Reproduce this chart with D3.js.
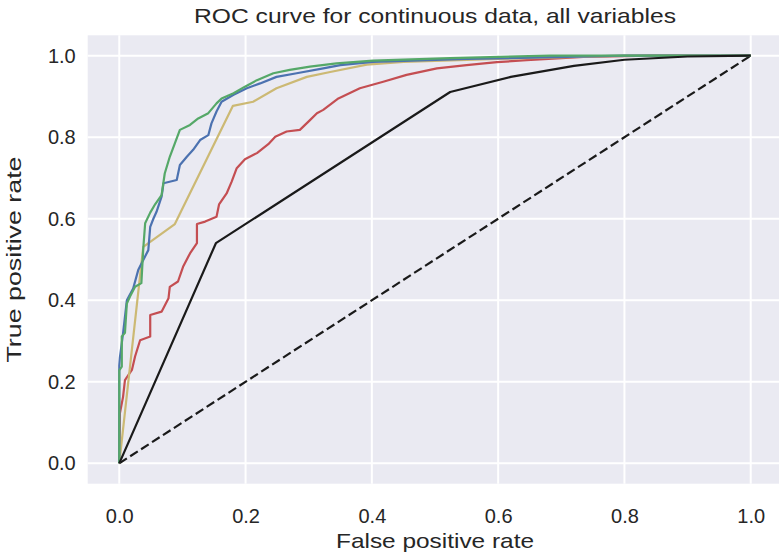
<!DOCTYPE html>
<html>
<head>
<meta charset="utf-8">
<script src="https://cdn.jsdelivr.net/npm/d3@7"></script>
<style>
  body { margin: 0; background: #fff; }
  text { font-family: "Liberation Sans", Arial, sans-serif; fill: #262626; }
</style>
</head>
<body>
<svg id="chart" width="779" height="554"></svg>
<script>
// ROC points, [fpr, tpr]
var blue = [[0,0],[0,0.24],[0.001,0.26],[0.006,0.319],[0.012,0.4],[0.022,0.429],[0.03,0.474],[0.038,0.499],[0.046,0.523],[0.049,0.58],[0.054,0.6],[0.059,0.617],[0.067,0.654],[0.07,0.687],[0.091,0.695],[0.096,0.732],[0.107,0.752],[0.117,0.769],[0.128,0.793],[0.141,0.805],[0.146,0.834],[0.154,0.863],[0.162,0.887],[0.181,0.904],[0.202,0.92],[0.223,0.932],[0.249,0.948],[0.281,0.957],[0.323,0.969],[0.35,0.977],[0.402,0.985],[0.55,0.992],[0.8,1.0],[1,1]];
var green = [[0,0],[0,0.228],[0.004,0.237],[0.004,0.311],[0.009,0.32],[0.012,0.392],[0.017,0.409],[0.025,0.433],[0.035,0.442],[0.038,0.527],[0.041,0.589],[0.049,0.615],[0.057,0.636],[0.067,0.658],[0.072,0.711],[0.08,0.752],[0.088,0.785],[0.096,0.818],[0.112,0.83],[0.125,0.846],[0.141,0.859],[0.154,0.883],[0.162,0.895],[0.181,0.908],[0.199,0.924],[0.218,0.94],[0.244,0.957],[0.27,0.965],[0.302,0.973],[0.344,0.981],[0.402,0.988],[0.524,0.994],[0.682,1.0],[1,1]];
var yellow = [[0,0],[0.038,0.531],[0.088,0.587],[0.18,0.877],[0.212,0.887],[0.249,0.92],[0.297,0.948],[0.334,0.96],[0.392,0.978],[0.45,0.985],[0.6,0.992],[0.8,1],[1,1]];
var red = [[0,0],[0.001,0.123],[0.006,0.163],[0.009,0.204],[0.02,0.229],[0.025,0.262],[0.033,0.302],[0.049,0.311],[0.049,0.364],[0.067,0.372],[0.078,0.405],[0.08,0.433],[0.093,0.446],[0.101,0.482],[0.112,0.515],[0.123,0.54],[0.123,0.587],[0.136,0.593],[0.154,0.605],[0.158,0.635],[0.17,0.662],[0.178,0.691],[0.186,0.724],[0.199,0.746],[0.218,0.761],[0.236,0.783],[0.247,0.801],[0.265,0.814],[0.286,0.818],[0.302,0.842],[0.313,0.859],[0.323,0.867],[0.347,0.895],[0.381,0.92],[0.418,0.936],[0.455,0.953],[0.503,0.969],[0.55,0.977],[0.598,0.984],[0.645,0.989],[0.735,0.997],[0.84,1],[1,1]];
var black = [[0,0],[0.153,0.54],[0.524,0.911],[0.62,0.948],[0.72,0.975],[0.8,0.99],[0.9,0.998],[1,1]];
var chance = [[0,0],[1,1]];
var ticks = [0, 0.2, 0.4, 0.6, 0.8, 1.0];

var svg = d3.select("#chart");
var plotL = 87.7, plotR = 782.3, plotT = 35.3, plotB = 483.7;

var x = d3.scaleLinear().domain([-0.05, 1.05]).range([plotL, plotR]);
var y = d3.scaleLinear().domain([-0.05, 1.05]).range([plotB, plotT]);

svg.append("rect")
    .attr("x", plotL).attr("y", plotT)
    .attr("width", plotR - plotL).attr("height", plotB - plotT)
    .attr("fill", "#eaeaf2");

// grid
svg.append("g").selectAll("line").data(ticks).enter().append("line")
    .attr("x1", function(d) { return x(d); }).attr("x2", function(d) { return x(d); })
    .attr("y1", plotT).attr("y2", plotB)
    .attr("stroke", "#fff").attr("stroke-width", 2);
svg.append("g").selectAll("line").data(ticks).enter().append("line")
    .attr("y1", function(d) { return y(d); }).attr("y2", function(d) { return y(d); })
    .attr("x1", plotL).attr("x2", plotR)
    .attr("stroke", "#fff").attr("stroke-width", 2);

// axes (no domain, no tick marks)
var xAxis = svg.append("g")
    .attr("transform", "translate(0," + plotB + ")")
    .call(d3.axisBottom(x).tickValues(ticks).tickFormat(d3.format(".1f")).tickSize(0).tickPadding(25));
var yAxis = svg.append("g")
    .attr("transform", "translate(" + plotL + ",0)")
    .call(d3.axisLeft(y).tickValues(ticks).tickFormat(d3.format(".1f")).tickSize(0).tickPadding(12));
[xAxis, yAxis].forEach(function(a) {
    a.select(".domain").remove();
    a.selectAll("text")
        .style("font-family", "Liberation Sans, Arial, sans-serif")
        .style("font-size", "20px")
        .attr("fill", "#262626");
});

var line = d3.line()
    .x(function(d) { return x(d[0]); })
    .y(function(d) { return y(d[1]); });

var series = [
    {data: chance, color: "#1a1a1a", dash: "9,4"},
    {data: red, color: "#c44e52"},
    {data: yellow, color: "#ccb974"},
    {data: blue, color: "#4c72b0"},
    {data: green, color: "#55a868"},
    {data: black, color: "#1a1a1a"}
];

svg.append("g").selectAll("path").data(series).enter().append("path")
    .attr("d", function(d) { return line(d.data); })
    .attr("fill", "none")
    .attr("stroke", function(d) { return d.color; })
    .attr("stroke-width", 2.2)
    .attr("stroke-linejoin", "round")
    .attr("stroke-dasharray", function(d) { return d.dash || null; });

svg.append("text")
    .attr("x", (plotL + plotR) / 2).attr("y", 23)
    .attr("text-anchor", "middle")
    .attr("textLength", 482).attr("lengthAdjust", "spacingAndGlyphs")
    .style("font-size", "21px")
    .text("ROC curve for continuous data, all variables");

svg.append("text")
    .attr("x", (plotL + plotR) / 2).attr("y", 548)
    .attr("text-anchor", "middle")
    .attr("textLength", 198).attr("lengthAdjust", "spacingAndGlyphs")
    .style("font-size", "21px")
    .text("False positive rate");

svg.append("text")
    .attr("transform", "translate(21," + (plotT + plotB) / 2 + ")rotate(-90)")
    .attr("text-anchor", "middle")
    .attr("textLength", 206).attr("lengthAdjust", "spacingAndGlyphs")
    .style("font-size", "21px")
    .text("True positive rate");
</script>
</body>
</html>
